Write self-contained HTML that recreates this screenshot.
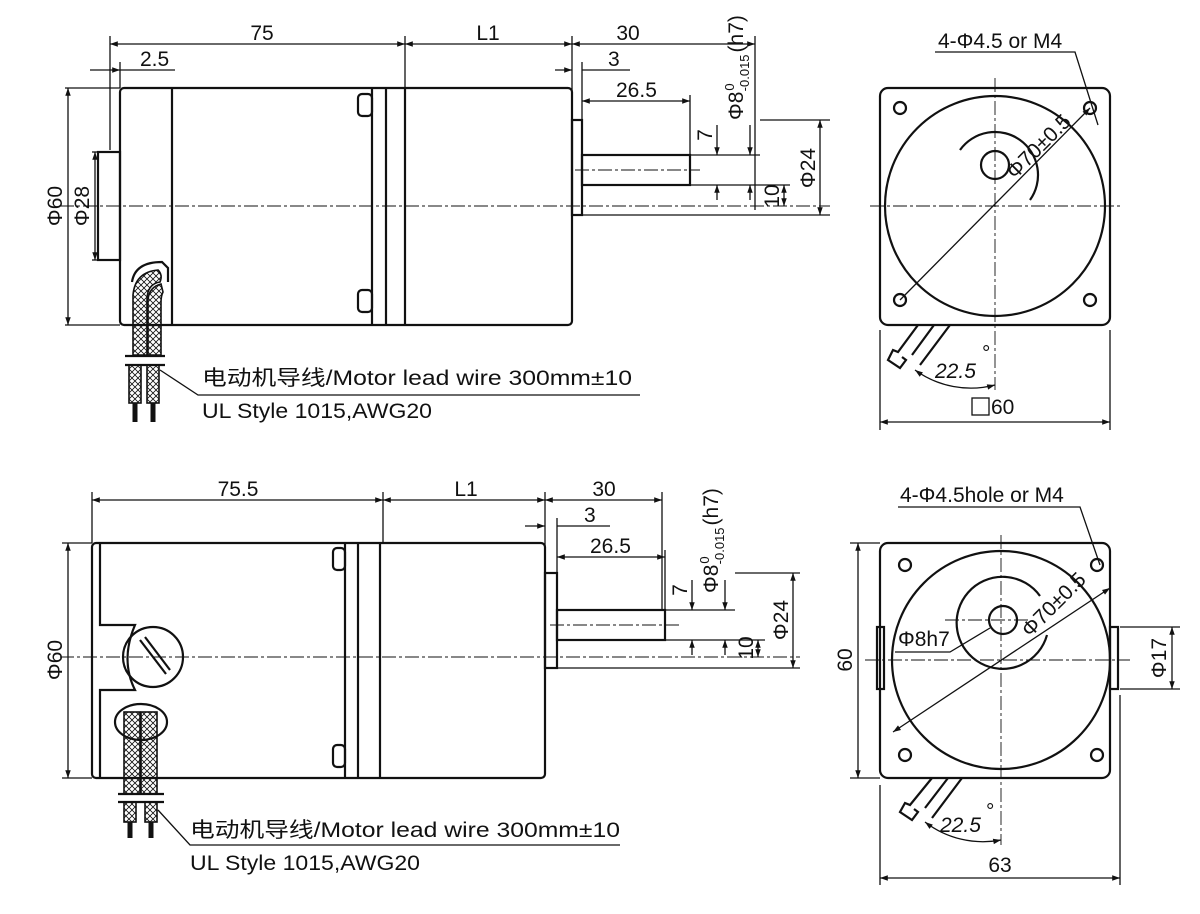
<!DOCTYPE html>
<html><head><meta charset="utf-8"><style>
html,body{margin:0;padding:0;background:#fff}
svg{display:block}
text{font-family:"Liberation Sans Narrow","Liberation Sans","Noto Sans CJK SC",sans-serif;font-size:21px;fill:#111}
.t{stroke:#111;stroke-width:1.3;fill:none}
.k{stroke:#111;stroke-width:2.2;fill:none}
.c{stroke:#111;stroke-width:0.9;fill:none;stroke-dasharray:14 3 3 3}
.h{stroke:#111;stroke-width:1.6;fill:url(#hx)}
</style></head><body>
<svg width="1200" height="914" viewBox="0 0 1200 914" xmlns="http://www.w3.org/2000/svg">
<defs>
<marker id="a" viewBox="0 0 10 10" refX="10" refY="5" markerWidth="10" markerHeight="6" orient="auto-start-reverse"><path d="M0,1.5L10,5L0,8.5z" fill="#111"/></marker>
<pattern id="hx" width="6" height="6" patternUnits="userSpaceOnUse"><path d="M0,0L6,6M6,0L0,6" stroke="#111" stroke-width="0.8"/></pattern>
</defs>
<!-- ===== TOP SIDE VIEW ===== -->
<g>
<rect class="k" x="120" y="88" width="452" height="237" rx="4"/>
<rect class="k" x="98" y="152" width="22" height="108"/>
<line class="k" x1="172" y1="88" x2="172" y2="325"/>
<line class="k" x1="372" y1="88" x2="372" y2="325"/>
<line class="k" x1="386" y1="88" x2="386" y2="325"/>
<line class="k" x1="405" y1="88" x2="405" y2="325"/>
<rect class="k" x="358" y="94" width="14" height="22" rx="4"/>
<rect class="k" x="358" y="290" width="14" height="22" rx="4"/>
<rect class="k" x="572" y="120" width="10" height="95"/>
<rect class="k" x="582" y="155" width="108" height="30"/>
<line class="c" x1="60" y1="206" x2="830" y2="206"/>
<line class="c" x1="575" y1="170" x2="700" y2="170"/>
<path class="k" d="M132,282 Q135,262 162,262 L168,268 L168,282"/>
<path class="h" d="M133,355 L133,295 Q135,272 158,270 Q163,275 160,282 Q147,284 147,300 L147,355 Z"/>
<path class="h" d="M148,355 L148,300 Q149,287 161,284 L163,292 Q161,296 161,302 L161,355 Z"/>
<line class="k" x1="125" y1="356" x2="165" y2="356"/>
<line class="k" x1="125" y1="365" x2="165" y2="365"/>
<rect class="h" x="129" y="365" width="12" height="38"/><rect class="h" x="147" y="365" width="12" height="38"/>
<line x1="135" y1="403" x2="135" y2="422" stroke="#111" stroke-width="5"/><line x1="153" y1="403" x2="153" y2="422" stroke="#111" stroke-width="5"/>
<polyline class="t" points="160,370 198,395 640,395"/>
<text x="202" y="385" textLength="430" lengthAdjust="spacingAndGlyphs">电动机导线/Motor lead wire 300mm±10</text>
<text x="202" y="418" textLength="230" lengthAdjust="spacingAndGlyphs">UL Style 1015,AWG20</text>
<line class="t" x1="110" y1="36" x2="110" y2="150"/><line class="t" x1="405" y1="36" x2="405" y2="88"/>
<line class="t" x1="572" y1="36" x2="572" y2="118"/><line class="t" x1="755" y1="36" x2="755" y2="210"/>
<line class="t" x1="110" y1="44" x2="405" y2="44" marker-start="url(#a)" marker-end="url(#a)"/>
<text x="262" y="40" text-anchor="middle">75</text>
<line class="t" x1="405" y1="44" x2="572" y2="44" marker-start="url(#a)" marker-end="url(#a)"/>
<text x="488" y="40" text-anchor="middle">L1</text>
<line class="t" x1="572" y1="44" x2="755" y2="44" marker-start="url(#a)" marker-end="url(#a)"/>
<text x="628" y="40" text-anchor="middle">30</text>
<line class="t" x1="90" y1="70" x2="120" y2="70" marker-end="url(#a)"/><line class="t" x1="120" y1="70" x2="175" y2="70"/>
<line class="t" x1="120" y1="62" x2="120" y2="88"/>
<text x="140" y="66">2.5</text>
<line class="t" x1="555" y1="70" x2="572" y2="70" marker-end="url(#a)"/><line class="t" x1="582" y1="70" x2="630" y2="70"/>
<line class="t" x1="582" y1="62" x2="582" y2="120"/>
<text x="608" y="66">3</text>
<line class="t" x1="582" y1="101" x2="690" y2="101" marker-start="url(#a)" marker-end="url(#a)"/>
<line class="t" x1="690" y1="95" x2="690" y2="155"/>
<text x="616" y="97">26.5</text>
<line class="t" x1="65" y1="88" x2="120" y2="88"/><line class="t" x1="65" y1="325" x2="120" y2="325"/>
<line class="t" x1="68" y1="88" x2="68" y2="325" marker-start="url(#a)" marker-end="url(#a)"/>
<text transform="translate(62,206) rotate(-90)" text-anchor="middle">Φ60</text>
<line class="t" x1="92" y1="152" x2="98" y2="152"/><line class="t" x1="92" y1="260" x2="98" y2="260"/>
<line class="t" x1="95" y1="152" x2="95" y2="260" marker-start="url(#a)" marker-end="url(#a)"/>
<text transform="translate(89,206) rotate(-90)" text-anchor="middle">Φ28</text>
<line class="t" x1="690" y1="155" x2="760" y2="155"/><line class="t" x1="690" y1="185" x2="790" y2="185"/>
<line class="t" x1="760" y1="120" x2="830" y2="120"/><line class="t" x1="582" y1="215" x2="830" y2="215"/>
<line class="t" x1="717" y1="125" x2="717" y2="155" marker-end="url(#a)"/>
<line class="t" x1="717" y1="200" x2="717" y2="185" marker-end="url(#a)"/>
<text transform="translate(712,135) rotate(-90)" text-anchor="middle">7</text>
<line class="t" x1="750" y1="125" x2="750" y2="155" marker-end="url(#a)"/>
<line class="t" x1="750" y1="200" x2="750" y2="185" marker-end="url(#a)"/>
<text transform="translate(743,120) rotate(-90)">Φ8<tspan font-size="13" dx="1" dy="-9">0</tspan><tspan font-size="13" dx="-8" dy="15">-0.015</tspan><tspan dx="2" dy="-6">(h7)</tspan></text>
<line class="t" x1="784" y1="185" x2="784" y2="206" marker-start="url(#a)" marker-end="url(#a)"/>
<text transform="translate(779,196) rotate(-90)" text-anchor="middle">10</text>
<line class="t" x1="820" y1="120" x2="820" y2="215" marker-start="url(#a)" marker-end="url(#a)"/>
<text transform="translate(815,168) rotate(-90)" text-anchor="middle">Φ24</text>
</g>
<!-- ===== TOP FRONT VIEW ===== -->
<g>
<rect class="k" x="880" y="88" width="230" height="237" rx="8"/>
<circle class="k" cx="995" cy="206" r="110"/>
<circle class="k" cx="995" cy="165" r="14"/>
<path class="k" d="M960,150 A38,38 0 1 1 1030,200" />
<circle class="k" cx="900" cy="108" r="6"/><circle class="k" cx="1090" cy="108" r="6"/>
<circle class="k" cx="900" cy="300" r="6"/><circle class="k" cx="1090" cy="300" r="6"/>
<line class="c" x1="870" y1="206" x2="1120" y2="206"/><line class="c" x1="995" y1="78" x2="995" y2="390"/>
<line class="t" x1="900" y1="300" x2="1090" y2="108" marker-end="url(#a)"/>
<text transform="translate(1015,180) rotate(-45)" font-size="18">Φ70±0.5</text>
<polyline class="t" points="935,52 1075,52 1098,125"/>
<text x="938" y="48">4-Φ4.5 or M4</text>
<path class="k" d="M918,325 L898,352 L893,350 L888,360 L900,368 L906,360 L902,357 M934,325 L912,355 M950,325 L920,365"/>
<path class="t" d="M915,370 A95,95 0 0 0 995,385" marker-start="url(#a)" marker-end="url(#a)"/>
<text x="935" y="378" font-style="italic">22.5</text><text x="982" y="360" font-size="14">°</text>
<line class="t" x1="880" y1="330" x2="880" y2="430"/><line class="t" x1="1110" y1="330" x2="1110" y2="430"/>
<line class="t" x1="880" y1="422" x2="1110" y2="422" marker-start="url(#a)" marker-end="url(#a)"/>
<rect class="t" x="972" y="398" width="17" height="17"/><text x="991" y="414">60</text>
</g>
<!-- ===== BOTTOM SIDE VIEW ===== -->
<g>
<rect class="k" x="92" y="543" width="453" height="235" rx="4"/>
<path class="k" d="M100,543 L100,625 L135,625 Q120,660 135,690 L100,690 L100,778"/>
<circle class="k" cx="153" cy="657" r="30"/>
<line class="k" x1="140" y1="640" x2="166" y2="674"/><line class="k" x1="145" y1="637" x2="170" y2="670"/>
<line class="k" x1="345" y1="543" x2="345" y2="778"/><line class="k" x1="358" y1="543" x2="358" y2="778"/><line class="k" x1="380" y1="543" x2="380" y2="778"/>
<rect class="k" x="333" y="548" width="12" height="22" rx="4"/><rect class="k" x="333" y="745" width="12" height="22" rx="4"/>
<rect class="k" x="545" y="573" width="12" height="95"/>
<rect class="k" x="557" y="610" width="108" height="30"/>
<line class="c" x1="60" y1="657" x2="800" y2="657"/><line class="c" x1="550" y1="625" x2="680" y2="625"/>
<ellipse class="k" cx="141" cy="722" rx="26" ry="18"/>
<rect class="h" x="124" y="712" width="16" height="82"/><rect class="h" x="141" y="712" width="16" height="82"/>
<line class="k" x1="118" y1="794" x2="164" y2="794"/><line class="k" x1="118" y1="802" x2="164" y2="802"/>
<rect class="h" x="124" y="802" width="12" height="20"/><rect class="h" x="145" y="802" width="12" height="20"/>
<line x1="130" y1="822" x2="130" y2="838" stroke="#111" stroke-width="5"/><line x1="151" y1="822" x2="151" y2="838" stroke="#111" stroke-width="5"/>
<polyline class="t" points="158,810 190,845 620,845"/>
<text x="190" y="837" textLength="430" lengthAdjust="spacingAndGlyphs">电动机导线/Motor lead wire 300mm±10</text>
<text x="190" y="870" textLength="230" lengthAdjust="spacingAndGlyphs">UL Style 1015,AWG20</text>
<line class="t" x1="92" y1="492" x2="92" y2="543"/><line class="t" x1="383" y1="492" x2="383" y2="543"/>
<line class="t" x1="545" y1="492" x2="545" y2="573"/><line class="t" x1="662" y1="492" x2="662" y2="610"/>
<line class="t" x1="92" y1="500" x2="383" y2="500" marker-start="url(#a)" marker-end="url(#a)"/>
<text x="238" y="496" text-anchor="middle">75.5</text>
<line class="t" x1="383" y1="500" x2="545" y2="500" marker-start="url(#a)" marker-end="url(#a)"/>
<text x="466" y="496" text-anchor="middle">L1</text>
<line class="t" x1="545" y1="500" x2="662" y2="500" marker-start="url(#a)" marker-end="url(#a)"/>
<text x="604" y="496" text-anchor="middle">30</text>
<line class="t" x1="525" y1="526" x2="545" y2="526" marker-end="url(#a)"/><line class="t" x1="557" y1="526" x2="610" y2="526"/>
<line class="t" x1="557" y1="518" x2="557" y2="573"/>
<text x="584" y="522">3</text>
<line class="t" x1="557" y1="557" x2="665" y2="557" marker-start="url(#a)" marker-end="url(#a)"/>
<line class="t" x1="665" y1="550" x2="665" y2="610"/>
<text x="590" y="553">26.5</text>
<line class="t" x1="62" y1="543" x2="92" y2="543"/><line class="t" x1="62" y1="778" x2="92" y2="778"/>
<line class="t" x1="68" y1="543" x2="68" y2="778" marker-start="url(#a)" marker-end="url(#a)"/>
<text transform="translate(62,660) rotate(-90)" text-anchor="middle">Φ60</text>
<line class="t" x1="665" y1="610" x2="735" y2="610"/><line class="t" x1="665" y1="640" x2="765" y2="640"/>
<line class="t" x1="735" y1="573" x2="800" y2="573"/><line class="t" x1="557" y1="668" x2="800" y2="668"/>
<line class="t" x1="692" y1="580" x2="692" y2="610" marker-end="url(#a)"/>
<line class="t" x1="692" y1="655" x2="692" y2="640" marker-end="url(#a)"/>
<text transform="translate(687,590) rotate(-90)" text-anchor="middle">7</text>
<line class="t" x1="725" y1="580" x2="725" y2="610" marker-end="url(#a)"/>
<line class="t" x1="725" y1="655" x2="725" y2="640" marker-end="url(#a)"/>
<text transform="translate(718,593) rotate(-90)">Φ8<tspan font-size="13" dx="1" dy="-9">0</tspan><tspan font-size="13" dx="-8" dy="15">-0.015</tspan><tspan dx="2" dy="-6">(h7)</tspan></text>
<line class="t" x1="758" y1="640" x2="758" y2="657" marker-start="url(#a)" marker-end="url(#a)"/>
<text transform="translate(753,648) rotate(-90)" text-anchor="middle">10</text>
<line class="t" x1="793" y1="573" x2="793" y2="668" marker-start="url(#a)" marker-end="url(#a)"/>
<text transform="translate(788,620) rotate(-90)" text-anchor="middle">Φ24</text>
</g>
<!-- ===== BOTTOM FRONT VIEW ===== -->
<g>
<rect class="k" x="880" y="543" width="230" height="235" rx="8"/>
<rect class="k" x="877" y="627" width="7" height="62"/><rect class="k" x="1110" y="627" width="8" height="62"/>
<circle class="k" cx="1001" cy="660" r="109"/>
<circle class="k" cx="1003" cy="620" r="14"/>
<path class="k" d="M1040,596 A46,46 0 1 0 1047,635"/>
<circle class="k" cx="905" cy="565" r="6"/><circle class="k" cx="1097" cy="565" r="6"/>
<circle class="k" cx="905" cy="755" r="6"/><circle class="k" cx="1097" cy="755" r="6"/>
<line class="c" x1="865" y1="660" x2="1130" y2="660"/><line class="c" x1="1001" y1="535" x2="1001" y2="845"/>
<line class="c" x1="945" y1="620" x2="1030" y2="620"/>
<line class="t" x1="893" y1="732" x2="1110" y2="588" marker-start="url(#a)" marker-end="url(#a)"/>
<text transform="translate(1030,638) rotate(-45)" font-size="18">Φ70±0.5</text>
<polyline class="t" points="895,652 950,652 990,628"/>
<text x="898" y="646">Φ8h7</text>
<polyline class="t" points="898,507 1080,507 1100,565"/>
<text x="900" y="502">4-Φ4.5hole or M4</text>
<path class="k" d="M932,778 L910,805 L905,803 L900,812 L912,820 L918,812 L914,809 M948,778 L925,808 M962,778 L932,818"/>
<path class="t" d="M925,822 A95,95 0 0 0 1001,840" marker-start="url(#a)" marker-end="url(#a)"/>
<text x="940" y="832" font-style="italic">22.5</text><text x="986" y="818" font-size="14">°</text>
<line class="t" x1="850" y1="543" x2="880" y2="543"/><line class="t" x1="850" y1="778" x2="880" y2="778"/>
<line class="t" x1="858" y1="543" x2="858" y2="778" marker-start="url(#a)" marker-end="url(#a)"/>
<text transform="translate(852,660) rotate(-90)" text-anchor="middle">60</text>
<line class="t" x1="1120" y1="627" x2="1180" y2="627"/><line class="t" x1="1120" y1="689" x2="1180" y2="689"/>
<line class="t" x1="1172" y1="627" x2="1172" y2="689" marker-start="url(#a)" marker-end="url(#a)"/>
<text transform="translate(1166,658) rotate(-90)" text-anchor="middle">Φ17</text>
<line class="t" x1="880" y1="785" x2="880" y2="885"/><line class="t" x1="1120" y1="695" x2="1120" y2="885"/>
<line class="t" x1="880" y1="878" x2="1120" y2="878" marker-start="url(#a)" marker-end="url(#a)"/>
<text x="1000" y="872" text-anchor="middle">63</text>
</g>
</svg>
</body></html>
